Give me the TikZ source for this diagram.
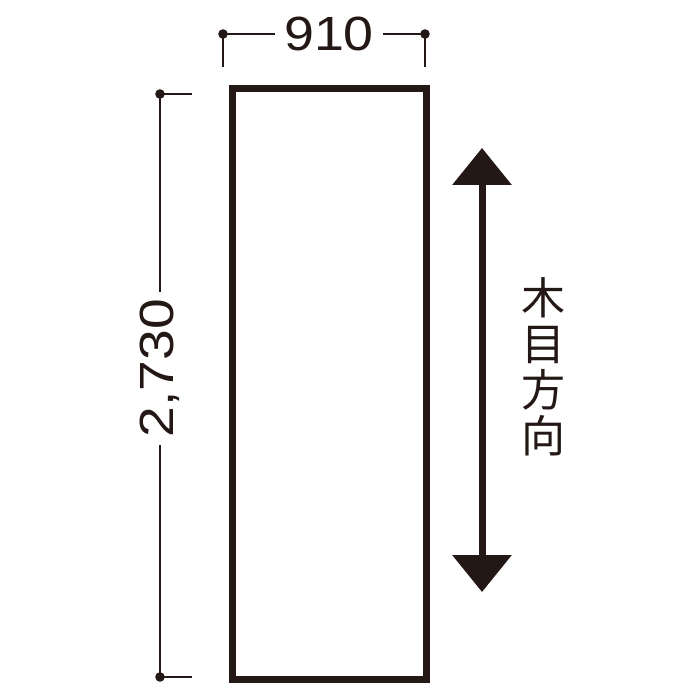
\documentclass[tikz,border=0pt]{standalone}
\usepackage{fontspec}
\setmainfont{Liberation Sans}
\newfontfamily\jpfont{Noto Sans CJK JP}
\usetikzlibrary{arrows.meta}
\definecolor{ink}{HTML}{231815}
\begin{document}
\begin{tikzpicture}[x=1pt,y=-1pt,
  dimline/.style={draw=ink,line width=2.4pt},
  dimdot/.style={fill=ink},
  dimtext/.style={text=ink,inner sep=0pt,font=\fontsize{48}{48}\selectfont},
  board/.style={draw=ink,line width=7pt,inner sep=0pt,minimum width=194.5pt,minimum height=591pt},
  grain/.style={draw=ink,line width=7pt,{Triangle[width=58pt,length=37pt]}-{Triangle[width=58pt,length=37pt]}}]
\useasboundingbox (0,0) rectangle (700,700);
\node[board] (board) at (329.25,384) {};
% top dimension
\coordinate (tl) at (223,34);
\coordinate (tr) at (425,34);
\coordinate (tlb) at (223,67);
\coordinate (trb) at (425,67);
\node[dimtext,xscale=1.12] (w) at (329,34) {910};
\coordinate (wl) at (275,34);
\coordinate (wr) at (383,34);
\draw[dimline] (tlb) -- (tl) -- (wl);
\draw[dimline] (wr) -- (tr) -- (trb);
\fill[dimdot] (tl) circle (4.8pt);
\fill[dimdot] (tr) circle (4.8pt);
% left dimension
\coordinate (lt) at (160,94);
\coordinate (lb) at (160,677);
\coordinate (ltr) at (192,94);
\coordinate (lbr) at (192,677);
\node[dimtext,rotate=90,xscale=1.15] (h) at (160,368) {2,730};
\coordinate (ha) at (160,292);
\coordinate (hb) at (160,445);
\draw[dimline] (ltr) -- (lt) -- (ha);
\draw[dimline] (hb) -- (lb) -- (lbr);
\fill[dimdot] (lt) circle (4.8pt);
\fill[dimdot] (lb) circle (4.8pt);
% grain arrow
\coordinate (at) at (482,148);
\coordinate (ab) at (482,592);
\draw[grain] (at) -- (ab);
\node[text=ink,inner sep=0pt,align=center,font=\jpfont\fontsize{44}{46}\selectfont] (g) at (543,367) {木\\目\\方\\向};
\end{tikzpicture}
\end{document}
